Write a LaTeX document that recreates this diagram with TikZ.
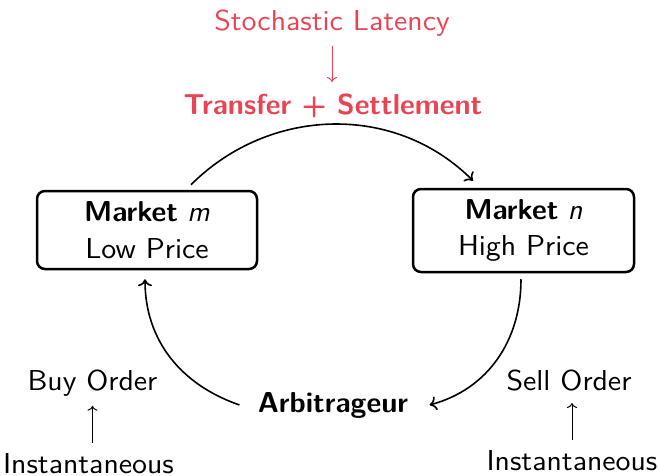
\documentclass[tikz,border=0pt]{standalone}
\usepackage{graphicx}
\usetikzlibrary{arrows.meta,calc}
\definecolor{accent}{RGB}{232,68,84}
\newcommand{\wide}[1]{\scalebox{1.06}[1]{#1}}
\begin{document}
\begin{tikzpicture}[x=0.5pt,y=-0.5pt,
  lbl/.style={font=\fontsize{14.4}{18.3}\selectfont\sffamily, inner sep=0pt, anchor=base},
  boldlbl/.style={lbl, font=\fontsize{14.4}{18.3}\selectfont\sffamily\bfseries},
  market/.style={draw, line width=1.25pt, rounded corners=4pt,
    font=\fontsize{14.4}{18.3}\selectfont\sffamily, align=center, inner sep=0pt},
  flow/.style={line width=0.8pt, -{To[length=3.5pt,width=7pt]}},
  smallarrow/.style={line width=0.5pt, -{To[length=2.5pt,width=5pt]}}
]
\useasboundingbox (0,0) rectangle (658,476);
\node[lbl, text=accent] (lat) at (332,31) {\wide{Stochastic Latency}};
\node[boldlbl, text=accent] (ts) at (333,114) {Transfer + Settlement};
\node[market, minimum width=110pt, minimum height=39pt] (mm) at (147,230)
  {\textbf{Market} \textit{m}\\\wide{Low Price}};
\node[market, minimum width=110.5pt, minimum height=41.5pt] (mn) at (523.5,230.5)
  {\textbf{Market} \textit{n}\\\wide{High Price}};
\node[boldlbl] (arb) at (333,412) {Arbitrageur};
\node[lbl] (buy) at (92.5,390) {\wide{Buy Order}};
\node[lbl] (inst1) at (88.5,473) {\wide{Instantaneous}};
\node[lbl] (sell) at (569,390) {\wide{Sell Order}};
\node[lbl] (inst2) at (572,470) {\wide{Instantaneous}};

\draw[smallarrow, accent, shorten <=4.25pt, shorten >=5.5pt] (lat.south) -- (lat.south |- ts.north);
\draw[smallarrow, shorten <=5pt, shorten >=4.75pt] (buy.south |- inst1.north) -- (buy.south);
\draw[smallarrow, shorten <=5pt, shorten >=6pt] (inst2.north) -- (inst2.north |- sell.south);

\draw[flow] ($(mm.north)+(44,-5)$) to[out=45,in=135] ($(mn.north)+(-50.5,-7)$);
\draw[flow] ($(mn.south)+(-2.5,6)$) to[out=-90,in=15] ($(arb.east)+(21,0)$);
\draw[flow] ($(arb.west)+(-18,0)$) to[out=161,in=-90] ($(mm.south)+(-2,9)$);
\end{tikzpicture}
\end{document}
